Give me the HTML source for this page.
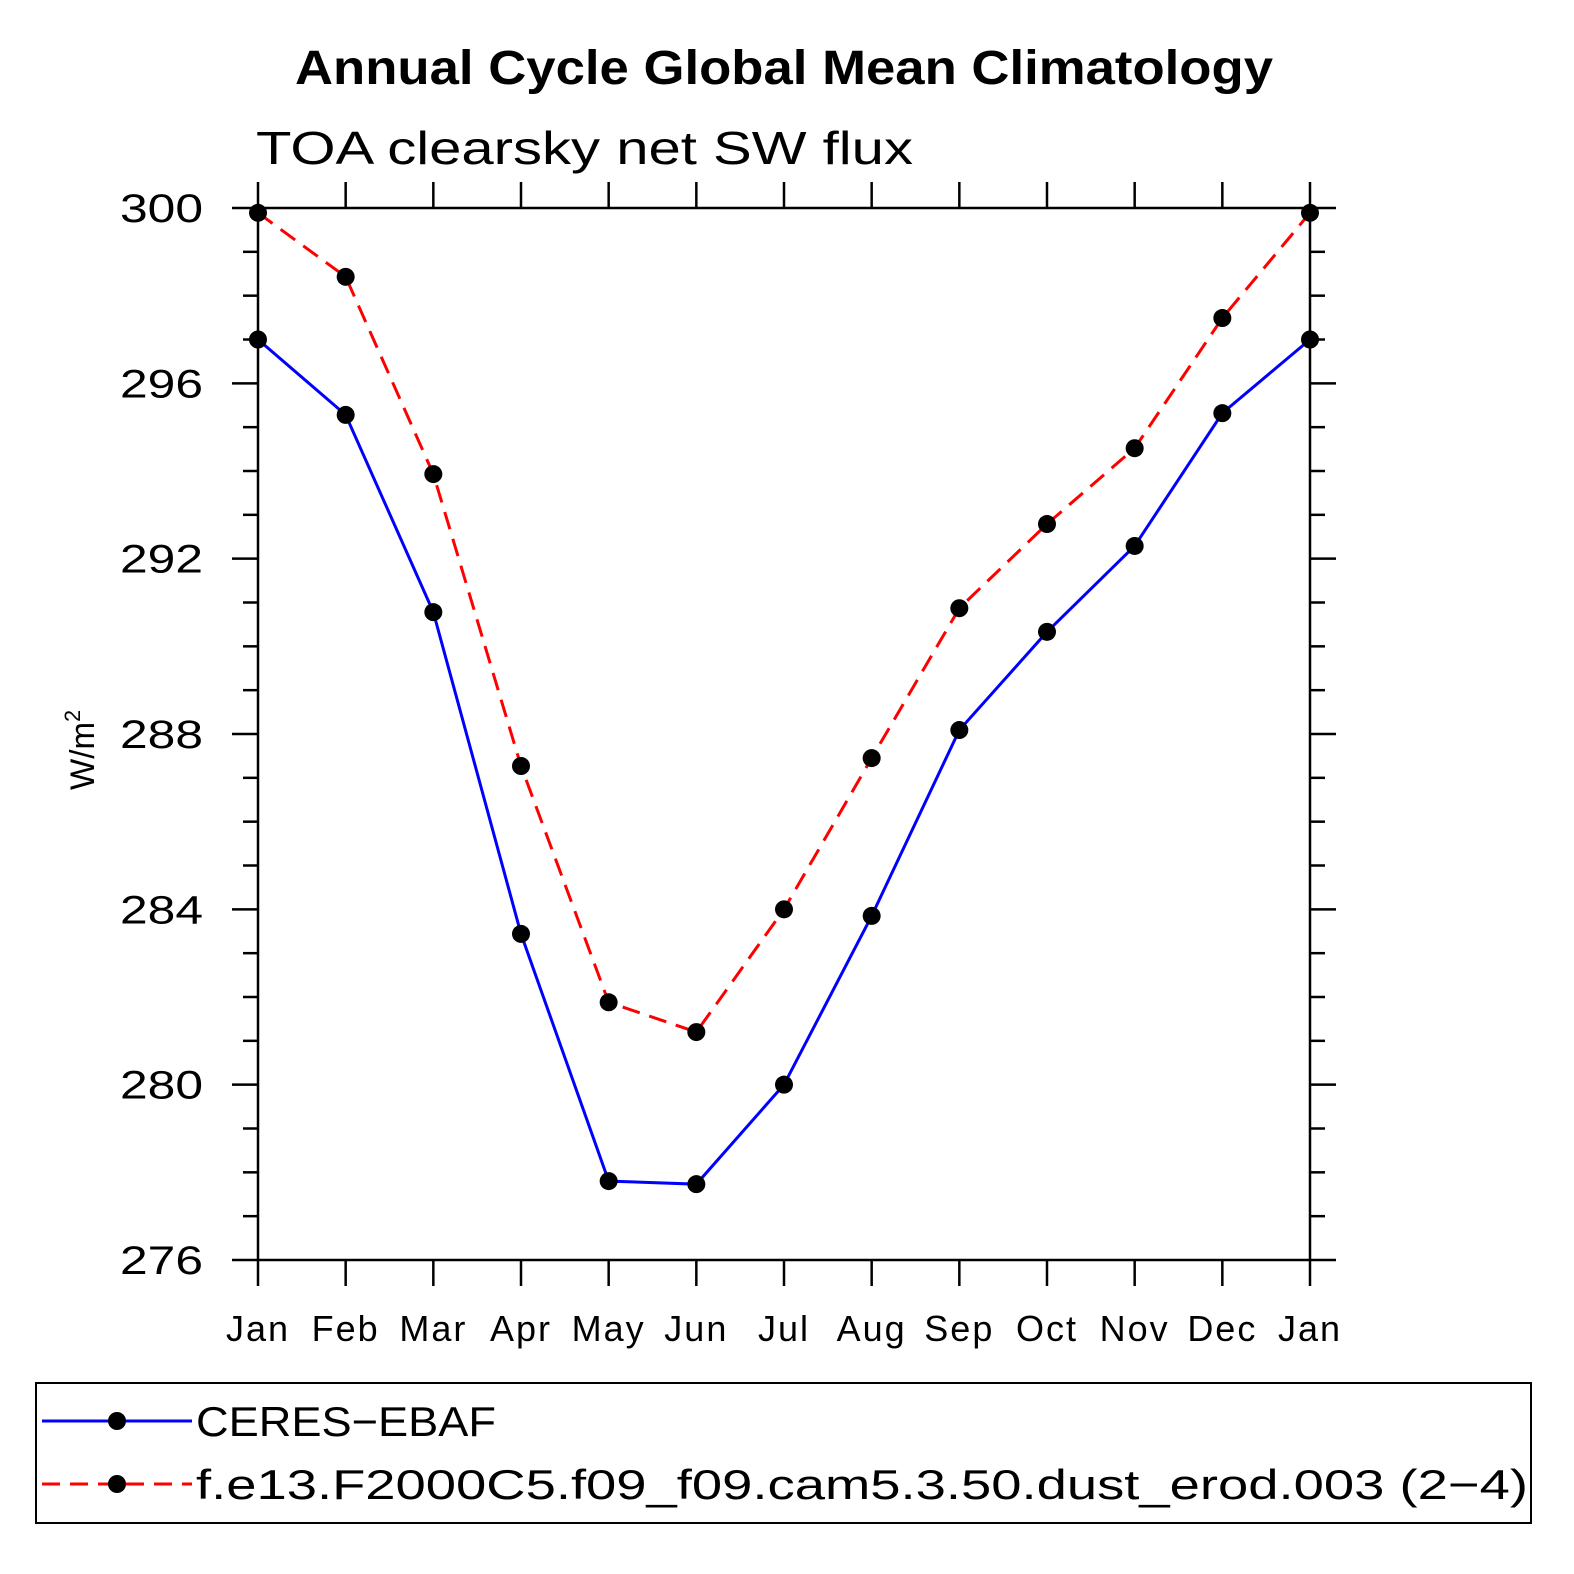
<!DOCTYPE html>
<html><head><meta charset="utf-8"><style>
body{margin:0;background:#fff}
svg{display:block}
text{font-family:"Liberation Sans",sans-serif}
</style></head><body>
<svg id="chart" width="1574" height="1574" viewBox="0 0 1574 1574">
<rect width="1574" height="1574" fill="#fff"/>
<text x="295" y="84" font-size="48" font-weight="bold" textLength="978" lengthAdjust="spacingAndGlyphs">Annual Cycle Global Mean Climatology</text>
<text x="256" y="164" font-size="46" textLength="657" lengthAdjust="spacingAndGlyphs">TOA clearsky net SW flux</text>
<text transform="translate(94,790) rotate(-90)" font-size="34" textLength="80" lengthAdjust="spacingAndGlyphs">W/m<tspan font-size="22" dy="-14">2</tspan></text>
<g id="axes"></g>
<g id="series"></g>
<rect x="36" y="1383" width="1495" height="140" fill="none" stroke="#000" stroke-width="2"/>
<g>
<line x1="42" y1="1421" x2="192" y2="1421" stroke="#00f" stroke-width="3"/>
<circle cx="117" cy="1421" r="9" fill="#000"/>
<text x="196" y="1436" font-size="42" textLength="300" lengthAdjust="spacingAndGlyphs">CERES−EBAF</text>
</g>
<g>
<line x1="42" y1="1484" x2="192" y2="1484" stroke="#f00" stroke-width="3" stroke-dasharray="18,10"/>
<circle cx="117" cy="1484" r="9" fill="#000"/>
<text x="196" y="1499" font-size="42" textLength="1332" lengthAdjust="spacingAndGlyphs">f.e13.F2000C5.f09_f09.cam5.3.50.dust_erod.003 (2−4)</text>
</g>
</svg>
<script>
const months=["Jan","Feb","Mar","Apr","May","Jun","Jul","Aug","Sep","Oct","Nov","Dec","Jan"];
const ceres=[297.0,295.28,290.78,283.44,277.8,277.73,280.0,283.85,288.09,290.33,292.29,295.32,297.0];
const model=[299.89,298.43,293.93,287.27,281.88,281.2,284.0,287.45,290.87,292.79,294.52,297.49,299.89];
const yTicks=[276,280,284,288,292,296,300];
const NS="http://www.w3.org/2000/svg";
const x0=258,x1=1310,yT=208,yB=1260,ymin=276,ymax=300;
const xs=i=>x0+(x1-x0)*i/12;
const ys=v=>yB-(v-ymin)/(ymax-ymin)*(yB-yT);
function mk(tag,attrs,parent){const e=document.createElementNS(NS,tag);for(const k in attrs)e.setAttribute(k,attrs[k]);parent.appendChild(e);return e;}
const ax=document.getElementById('axes');
const frame=mk('rect',{x:x0,y:yT,width:x1-x0,height:yB-yT,fill:'none',stroke:'#000','stroke-width':2.5},ax);


for(let v=ymin;v<=ymax;v++){
  const major=(v-ymin)%4===0, y=ys(v);
  mk('line',{x1:x0-(major?26:15),y1:y,x2:x0,y2:y,stroke:'#000','stroke-width':2.5},ax);
  mk('line',{x1:x1,y1:y,x2:x1+(major?26:15),y2:y,stroke:'#000','stroke-width':2.5},ax);
}
yTicks.forEach(v=>{
  const t=mk('text',{x:203,y:ys(v)+14,'text-anchor':'end','font-size':40,textLength:83,lengthAdjust:'spacingAndGlyphs'},ax);
  t.textContent=v;
  
  
});
months.forEach((m,i)=>{
  const x=xs(i);
  mk('line',{x1:x,y1:yT-26,x2:x,y2:yT,stroke:'#000','stroke-width':2.5},ax);
  mk('line',{x1:x,y1:yB,x2:x,y2:yB+26,stroke:'#000','stroke-width':2.5},ax);
  const t=mk('text',{x:x,y:1341,'text-anchor':'middle','font-size':36,'letter-spacing':2},ax);
  t.textContent=m;
  
  
});
const sg=document.getElementById('series');
function series(vals,color,dash,name){
  const p=mk('polyline',{points:vals.map((v,i)=>xs(i)+','+ys(v)).join(' '),fill:'none',stroke:color,'stroke-width':3,'stroke-dasharray':dash},sg);
  
  
  vals.forEach((v,i)=>{
    const c=mk('circle',{cx:xs(i),cy:ys(v),r:9,fill:'#000'},sg);
    
    
  });
}
series(model,'#f00','18,10','model');
series(ceres,'#00f','none','ceres');
</script>
</body></html>
